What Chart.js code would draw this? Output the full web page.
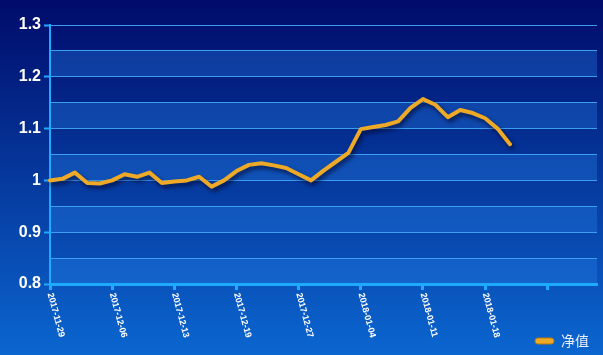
<!DOCTYPE html>
<html>
<head>
<meta charset="utf-8">
<script src="https://cdn.jsdelivr.net/npm/chart.js@4/dist/chart.umd.min.js"></script>
<style>
  html, body { margin: 0; padding: 0; background: #00106e; }
  #wrap { width: 603px; height: 355px; }
</style>
</head>
<body>
<div id="wrap"><canvas id="navChart"></canvas></div>
<script>
// categories (empty slots at the end keep the axis running past the last point)
var dates = [
    '2017-11-29', '2017-11-30', '2017-12-01', '2017-12-04', '2017-12-05',
    '2017-12-06', '2017-12-07', '2017-12-08', '2017-12-11', '2017-12-12',
    '2017-12-13', '2017-12-14', '2017-12-15', '2017-12-18', '2017-12-18',
    '2017-12-19', '2017-12-20', '2017-12-21', '2017-12-22', '2017-12-26',
    '2017-12-27', '2017-12-28', '2017-12-29', '2018-01-02', '2018-01-03',
    '2018-01-04', '2018-01-05', '2018-01-08', '2018-01-09', '2018-01-10',
    '2018-01-11', '2018-01-12', '2018-01-15', '2018-01-16', '2018-01-17',
    '2018-01-18', '2018-01-19', '2018-01-22',
    '', '', '', '', '', '', ''
];

var navValues = [
    1.000, 1.003, 1.015, 0.995, 0.994, 1.000, 1.012, 1.007, 1.015, 0.995,
    0.998, 1.000, 1.007, 0.988, 1.000, 1.018, 1.030, 1.033, 1.029, 1.024,
    1.012, 1.000, 1.019, 1.036, 1.053, 1.099, 1.103, 1.107, 1.114, 1.140,
    1.157, 1.146, 1.122, 1.136, 1.130, 1.120, 1.100, 1.070
];

var seriesName = '净值';
var yMin = 0.8, yMax = 1.3, yStep = 0.05;

var lineColor = '#eeaa26';
var axisColor = '#1eaaff';
var gridColor = '#3c9ef0';

function isMajor(v) {
    return Math.round(v * 100) % 10 === 0;
}

/**
 *  Background gradient and the alternating bands behind the grid.
 */
var backdrop = {
    id: 'backdrop',
    beforeDraw: function(chart) {
        const ctx = chart.ctx;
        const area = chart.chartArea;
        const y = chart.scales.y;
        ctx.save();
        const g = ctx.createLinearGradient(0, 0, 0, chart.height);
        g.addColorStop(0, '#000b6a');
        g.addColorStop(1, '#0b66d0');
        ctx.fillStyle = g;
        ctx.fillRect(0, 0, chart.width, chart.height);

        ctx.fillStyle = 'rgba(40, 135, 235, 0.32)';
        for (let v = yMin; v < yMax - 0.001; v += 0.1) {
            const top = y.getPixelForValue(v + yStep);
            const bottom = y.getPixelForValue(v);
            ctx.fillRect(area.left, top, area.right - area.left, bottom - top);
        }
        ctx.restore();
    }
};

/**
 *  Shadow under the line.
 */
var lineShadow = {
    id: 'lineShadow',
    beforeDatasetDraw: function(chart) {
        const ctx = chart.ctx;
        ctx.save();
        ctx.shadowColor = 'rgba(0, 5, 40, 0.7)';
        ctx.shadowBlur = 4;
        ctx.shadowOffsetX = 2;
        ctx.shadowOffsetY = 3;
    },
    afterDatasetDraw: function(chart) {
        chart.ctx.restore();
    }
};

/**
 *  Date labels, turned so they read downwards.
 */
var dateLabels = {
    id: 'dateLabels',
    afterDraw: function(chart) {
        const ctx = chart.ctx;
        const x = chart.scales.x;
        const baseY = chart.chartArea.bottom + 9;
        ctx.save();
        ctx.fillStyle = '#ffffff';
        ctx.font = 'bold 9px "Liberation Sans", Arial, sans-serif';
        ctx.textAlign = 'left';
        ctx.textBaseline = 'middle';
        dates.forEach(function(label, i) {
            if (i % 5 !== 0 || !label) return;
            ctx.save();
            ctx.translate(x.getPixelForValue(i), baseY);
            ctx.rotate(75 * Math.PI / 180);
            ctx.fillText(label, 0, 0);
            ctx.restore();
        });
        ctx.restore();
    }
};

new Chart(document.getElementById('navChart').getContext('2d'), {
    type: 'line',
    data: {
        labels: dates,
        datasets: [{
            label: seriesName,
            data: navValues,
            borderColor: lineColor,
            backgroundColor: lineColor,
            borderWidth: 4,
            borderJoinStyle: 'round',
            borderCapStyle: 'round',
            pointRadius: 0,
            tension: 0,
            fill: false
        }]
    },
    options: {
        responsive: true,
        maintainAspectRatio: false,
        animation: false,
        layout: { padding: { top: 25, right: 6, left: 0, bottom: -3 } },
        plugins: {
            tooltip: { enabled: false },
            legend: {
                position: 'bottom',
                align: 'end',
                labels: {
                    color: '#e8eefc',
                    font: { family: '"Noto Sans CJK SC", sans-serif', size: 14 },
                    boxWidth: 19,
                    boxHeight: 6,
                    padding: 8,
                    useBorderRadius: true,
                    borderRadius: 3,
                    generateLabels: function(chart) {
                        return [{
                            text: seriesName,
                            fillStyle: lineColor,
                            strokeStyle: '#b57a10',
                            lineWidth: 1,
                            borderRadius: 3,
                            fontColor: '#e8eefc',
                            datasetIndex: 0
                        }];
                    }
                }
            }
        },
        scales: {
            x: {
                offset: false,
                ticks: { display: false },
                grid: {
                    drawOnChartArea: false,
                    drawTicks: true,
                    tickLength: 6,
                    tickWidth: 3,
                    tickColor: function(c) {
                        return c.index % 5 === 0 ? axisColor : 'transparent';
                    }
                },
                border: { color: axisColor, width: 3 },
                afterFit: function(s) { s.height = 42; }
            },
            y: {
                min: yMin,
                max: yMax,
                ticks: {
                    stepSize: yStep,
                    color: '#ffffff',
                    padding: 3,
                    font: { family: '"Liberation Sans", Arial, sans-serif', size: 16, weight: 'bold' },
                    callback: function(v) {
                        return isMajor(v) ? String(Math.round(v * 10) / 10) : '';
                    }
                },
                grid: {
                    color: gridColor,
                    lineWidth: 1,
                    drawTicks: true,
                    tickLength: 6,
                    tickWidth: 2,
                    tickColor: function(c) {
                        return c.tick && isMajor(c.tick.value) ? axisColor : 'transparent';
                    }
                },
                border: { color: axisColor, width: 2 },
                afterFit: function(s) { s.width = 50; }
            }
        }
    },
    plugins: [backdrop, lineShadow, dateLabels]
});
</script>
</body>
</html>
